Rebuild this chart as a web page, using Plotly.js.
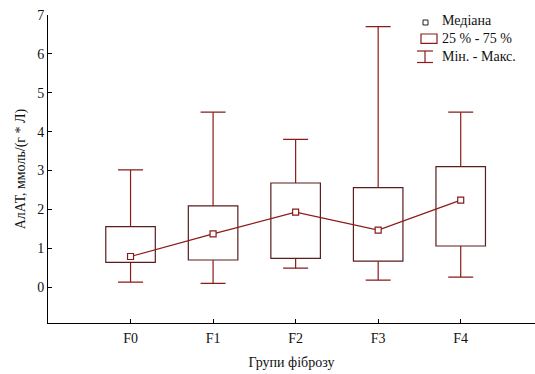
<!DOCTYPE html>
<html>
<head>
<meta charset="utf-8">
<script src="https://cdn.plot.ly/plotly-3.0.1.min.js"></script>
<style>
  html, body { margin: 0; padding: 0; background: #fff; }
  #chart { width: 535px; height: 374px; }
</style>
</head>
<body>
<div id="chart"></div>
<script>
// ALT levels by fibrosis group: min, quartiles, median, max
const groups = ['F0', 'F1', 'F2', 'F3', 'F4'];
const minVals = [0.13, 0.10, 0.49, 0.18, 0.26];
const q1Vals = [0.64, 0.70, 0.74, 0.67, 1.06];
const medianVals = [0.79, 1.37, 1.93, 1.47, 2.24];
const q3Vals = [1.56, 2.09, 2.68, 2.56, 3.10];
const maxVals = [3.02, 4.50, 3.80, 6.70, 4.50];
const yTicks = [0, 1, 2, 3, 4, 5, 6, 7];
const legendLabels = ['Медіана', '25 % - 75 %', 'Мін. - Макс.'];

const boxEdge = '#5a1e1e';
const maroon = '#8b1a1a';
const serif = 'Liberation Serif, Times New Roman, serif';
const fs = 14;

const pos = groups.map((g, i) => i);

// whisker stems: min..Q1 and Q3..max
const stemX = [], stemY = [];
pos.forEach(i => {
  stemX.push(i, i, null, i, i, null);
  stemY.push(minVals[i], q1Vals[i], null, q3Vals[i], maxVals[i], null);
});

const traces = [
  {
    type: 'bar',
    x: pos,
    y: pos.map(i => q3Vals[i] - q1Vals[i]),
    base: q1Vals,
    width: 0.6,
    marker: { color: '#ffffff', line: { color: boxEdge, width: 1.2 } },
    hoverinfo: 'skip',
    showlegend: false
  },
  {
    type: 'scatter',
    mode: 'lines',
    x: stemX,
    y: stemY,
    line: { color: maroon, width: 1.2 },
    hoverinfo: 'skip',
    showlegend: false
  },
  {
    // whisker caps at min and max
    type: 'scatter',
    mode: 'markers',
    x: pos.concat(pos),
    y: minVals.concat(maxVals),
    marker: { size: 1, opacity: 0 },
    error_y: { type: 'constant', value: 0, width: 12.5, thickness: 1.2, color: maroon },
    hoverinfo: 'skip',
    showlegend: false
  },
  {
    type: 'scatter',
    mode: 'lines+markers',
    x: pos,
    y: medianVals,
    line: { color: maroon, width: 1.2 },
    marker: { symbol: 'square', size: 6, color: '#ffffff', line: { color: maroon, width: 1.2 } },
    showlegend: false
  }
];

// plot area in pixels, used to place the legend glyphs
const L = 48, R = 535, T = 15, B = 323;
const px = v => (v - L) / (R - L);
const py = v => (B - v) / (B - T);

const shapes = [
  { type: 'rect', xref: 'paper', yref: 'paper', x0: px(423), x1: px(428), y0: py(25), y1: py(20),
    line: { color: '#222', width: 1 }, fillcolor: 'rgba(0,0,0,0)' },
  { type: 'rect', xref: 'paper', yref: 'paper', x0: px(421), x1: px(437), y0: py(43.3), y1: py(34),
    line: { color: maroon, width: 1.2 }, fillcolor: 'rgba(0,0,0,0)' },
  { type: 'line', xref: 'paper', yref: 'paper', x0: px(417), x1: px(433), y0: py(51), y1: py(51),
    line: { color: maroon, width: 1.2 } },
  { type: 'line', xref: 'paper', yref: 'paper', x0: px(417), x1: px(433), y0: py(62.5), y1: py(62.5),
    line: { color: maroon, width: 1.2 } },
  { type: 'line', xref: 'paper', yref: 'paper', x0: px(425), x1: px(425), y0: py(51), y1: py(62.5),
    line: { color: maroon, width: 1.2 } }
];

const legendY = [21, 38.5, 56.5];
const annotations = legendLabels.map((t, k) => ({
  text: t, xref: 'paper', yref: 'paper', x: px(440), y: py(legendY[k]),
  xanchor: 'left', yanchor: 'middle', showarrow: false,
  font: { family: serif, size: fs, color: '#111' }
}));

const layout = {
  width: 535,
  height: 374,
  margin: { l: L, r: 0, t: T, b: 374 - B, pad: 0 },
  paper_bgcolor: '#ffffff',
  plot_bgcolor: '#ffffff',
  font: { family: serif, size: fs, color: '#111' },
  showlegend: false,
  xaxis: {
    range: [-1, 4.9],
    tickvals: pos,
    ticktext: groups,
    ticks: 'inside',
    ticklen: 4,
    tickcolor: '#000',
    showline: true,
    linecolor: '#000',
    linewidth: 1,
    showgrid: false,
    zeroline: false,
    ticklabelstandoff: 2,
    tickfont: { family: serif, size: fs, color: '#111' },
    title: { text: 'Групи фіброзу', font: { family: serif, size: fs, color: '#111' }, standoff: 12 }
  },
  yaxis: {
    range: [-0.92, 7],
    tickvals: yTicks,
    ticks: 'inside',
    ticklen: 4,
    tickcolor: '#000',
    showline: true,
    linecolor: '#000',
    linewidth: 1,
    showgrid: false,
    zeroline: false,
    tickfont: { family: serif, size: fs, color: '#111' },
    title: { text: 'АлАТ, ммоль/(г * Л)', font: { family: serif, size: fs, color: '#111' }, standoff: 8 }
  },
  shapes: shapes,
  annotations: annotations
};

Plotly.newPlot('chart', traces, layout, { displayModeBar: false, staticPlot: true });
</script>
</body>
</html>
